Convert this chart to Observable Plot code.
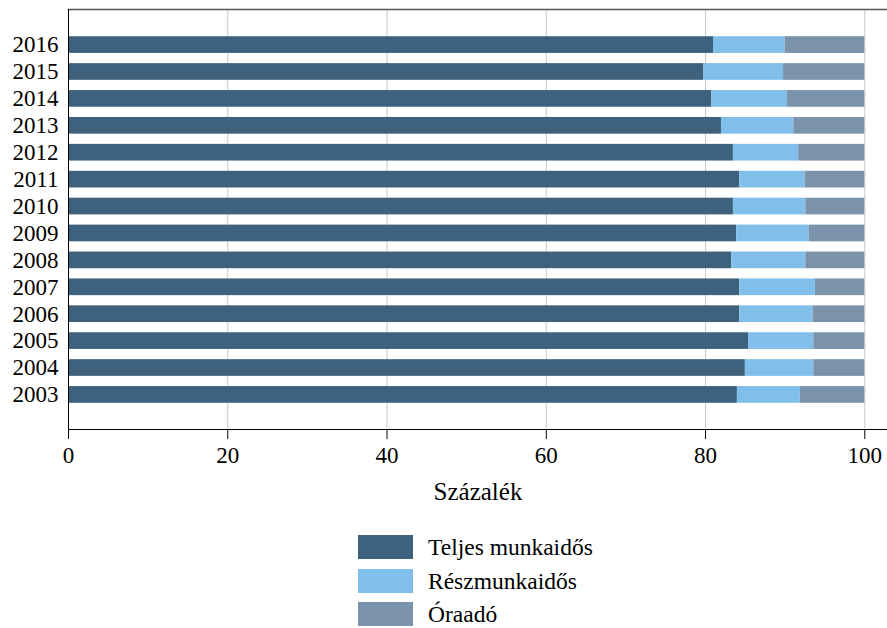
<!DOCTYPE html>
<html>
<head>
<meta charset="utf-8">
<script src="https://cdn.jsdelivr.net/npm/d3@7"></script>
<script src="https://cdn.jsdelivr.net/npm/@observablehq/plot@0.6"></script>
<style>
  body { margin: 0; background: #fff; font-family: "Liberation Serif", "Times New Roman", serif; }
  #wrap { position: relative; width: 887px; height: 628px; }
  #legend { position: absolute; left: 358px; top: 535px; }
  .item { display: flex; align-items: center; height: 24px; margin-bottom: 9.5px; }
  .sw { width: 55px; height: 24px; margin-right: 15px; }
  .lb { font-size: 23.5px; color: #000; line-height: 24px; font-family: "Liberation Serif", serif; }
</style>
</head>
<body>
<div id="wrap"><div id="chart"></div><div id="legend"></div></div>
<script>
const years = ["2016","2015","2014","2013","2012","2011","2010","2009","2008","2007","2006","2005","2004","2003"];
const categories = ["Teljes munkaidős", "Részmunkaidős", "Óraadó"];
const colors = ["#3e627e", "#80bfea", "#7a93ab"];
const fullTime = [81.0, 79.8, 80.8, 82.0, 83.5, 84.3, 83.5, 83.9, 83.3, 84.3, 84.3, 85.4, 85.0, 84.0];
const partTime = [9.0, 10.0, 9.5, 9.1, 8.2, 8.2, 9.1, 9.1, 9.3, 9.5, 9.2, 8.2, 8.6, 7.9];
const hourly   = [10.0, 10.2, 9.7, 8.9, 8.3, 7.5, 7.4, 7.0, 7.4, 6.2, 6.5, 6.4, 6.4, 8.1];
const xTicks = [0, 20, 40, 60, 80, 100];

const series = [fullTime, partTime, hourly];
const data = [];
years.forEach((y, i) => {
  categories.forEach((c, k) => data.push({year: y, cat: c, value: series[k][i]}));
});

const chart = Plot.plot({
  width: 887,
  height: 520,
  marginLeft: 68,
  marginRight: 0,
  marginTop: 9,
  marginBottom: 91,
  style: {fontFamily: "'Liberation Serif', serif", fontSize: "23px", color: "#000", background: "#fff"},
  x: {domain: [0, 102.85], ticks: xTicks, label: "Százalék", labelAnchor: "center", labelArrow: "none"},
  y: {domain: years, padding: 0.38, insetTop: 17, insetBottom: 16, round: false, label: null},
  color: {domain: categories, range: colors},
  marks: [
    Plot.gridX(xTicks.slice(1), {stroke: "#c8c8c8", strokeOpacity: 1}),
    Plot.barX(data, Plot.stackX({x: "value", y: "year", fill: "cat", order: categories})),
    Plot.frame({anchor: "top", stroke: "#555", strokeWidth: 1.5}),
    Plot.ruleX([0], {stroke: "#000"}),
    Plot.axisX({ticks: xTicks, tickSize: 10, tickPadding: 7, stroke: "#000", label: null, fontSize: 23}),
    Plot.axisX({ticks: [], tickSize: 0, label: "Százalék", labelOffset: 70, labelAnchor: "center", labelArrow: "none", fontSize: 25}),
    Plot.frame({anchor: "bottom", stroke: "#000"}),
    Plot.axisY({tickSize: 0, tickPadding: 10, fontSize: 23, label: null})
  ]
});
document.getElementById("chart").appendChild(chart);

const legend = document.getElementById("legend");
categories.forEach((c, k) => {
  const item = document.createElement("div");
  item.className = "item";
  const sw = document.createElement("div");
  sw.className = "sw";
  sw.style.background = colors[k];
  const lb = document.createElement("span");
  lb.className = "lb";
  lb.textContent = c;
  item.appendChild(sw);
  item.appendChild(lb);
  legend.appendChild(item);
});
</script>
</body>
</html>
